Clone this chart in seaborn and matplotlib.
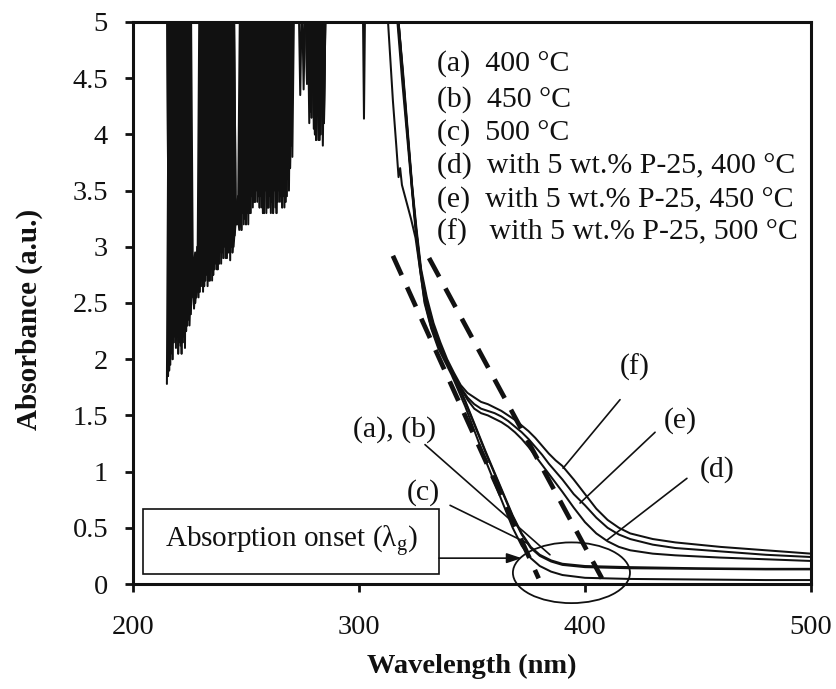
import numpy as np
import pandas as pd
import matplotlib
matplotlib.use("Agg")
import matplotlib.pyplot as plt
import seaborn as sns
from matplotlib.patches import Ellipse, Rectangle

# ---------------- data ----------------
# noisy (saturated) region, four traces; 5.6 = above the 5.0 limit
noise1_wl = np.arange(215.0, 286.0, 1.0)
noise1_abs = [
    1.78, 5.6, 2.05, 5.6, 2.10, 5.6, 2.12, 5.6, 2.10, 5.6,
    2.30, 3.0, 2.45, 2.9, 2.55, 5.6, 2.60, 5.6, 2.65, 5.6,
    2.70, 5.6, 2.80, 5.6, 2.85, 5.6, 2.90, 5.6, 2.88, 5.6,
    3.10, 3.4, 3.15, 5.6, 3.20, 5.6, 3.20, 5.6, 3.35, 5.6,
    3.40, 5.6, 3.35, 5.6, 3.30, 5.6, 3.30, 5.6, 3.35, 5.6,
    3.40, 5.6, 3.35, 5.6, 3.50, 5.6, 5.6, 5.6, 5.6, 4.35,
    5.6, 5.6, 5.6, 4.10, 5.6, 4.05, 5.6, 3.95, 5.6, 3.90,
    5.6,
]
noise2_wl = np.arange(215.5, 286.5, 1.0)
noise2_abs = [
    5.6, 1.95, 5.6, 2.20, 5.6, 2.15, 5.6, 2.20, 5.6, 2.35,
    5.6, 2.70, 2.95, 2.60, 5.6, 2.70, 5.6, 2.75, 5.6, 2.80,
    5.6, 2.85, 5.6, 2.95, 5.6, 3.00, 5.6, 2.95, 5.6, 3.00,
    3.30, 3.30, 5.6, 3.30, 5.6, 3.30, 5.6, 3.45, 5.6, 3.50,
    5.6, 3.45, 5.6, 3.50, 5.6, 3.45, 5.6, 3.50, 5.6, 3.50,
    5.6, 3.45, 5.6, 3.60, 5.6, 3.80, 5.6, 5.6, 5.6, 5.6,
    4.40, 5.6, 5.6, 4.20, 5.6, 4.10, 5.6, 4.00, 5.6, 4.20,
    5.6,
]
noise3_wl = np.arange(215.5, 286.5, 1.0)
noise3_abs = [
    1.85, 5.6, 2.00, 5.6, 2.20, 5.6, 2.05, 5.6, 2.25, 5.6,
    2.40, 2.85, 2.50, 3.0, 2.60, 5.6, 2.65, 5.6, 2.70, 5.6,
    2.75, 5.6, 2.80, 5.6, 2.95, 5.6, 2.90, 5.6, 3.00, 5.6,
    3.20, 3.45, 3.20, 5.6, 3.25, 5.6, 3.30, 5.6, 3.40, 5.6,
    3.45, 5.6, 3.30, 5.6, 3.35, 5.6, 3.40, 5.6, 3.30, 5.6,
    3.45, 5.6, 3.40, 5.6, 3.70, 5.6, 5.6, 5.6, 5.6, 5.6,
    5.6, 5.6, 5.6, 4.30, 5.6, 4.00, 5.6, 3.95, 5.6, 4.10,
    5.6,
]
noise4_wl = np.arange(215.0, 286.0, 1.0)
noise4_abs = [
    5.6, 1.90, 5.6, 2.15, 5.6, 2.05, 5.6, 2.15, 5.6, 2.30,
    5.6, 2.55, 2.90, 2.55, 2.95, 2.65, 5.6, 2.70, 5.6, 2.70,
    5.6, 2.80, 5.6, 2.85, 5.6, 2.90, 5.6, 2.95, 5.6, 2.95,
    3.35, 3.20, 3.40, 3.15, 5.6, 3.20, 5.6, 3.30, 5.6, 3.40,
    5.6, 3.35, 5.6, 3.30, 5.6, 3.35, 5.6, 3.30, 5.6, 3.40,
    5.6, 3.35, 5.6, 3.45, 5.6, 3.90, 5.6, 5.6, 5.6, 5.6,
    5.6, 5.6, 4.45, 5.6, 4.15, 5.6, 3.95, 5.6, 4.00, 5.6,
    5.6,
]
spike_wl = [301.5, 302.2, 302.9]
spike_abs = [5.6, 4.14, 5.6]

# absorption edge, samples without P-25
ab_wl = [314, 317, 319, 321, 323, 325, 327, 329, 332, 335, 338, 341, 344, 347,
         350, 353, 356, 360, 364, 368, 372, 376, 380, 385, 390, 400, 420, 450, 480, 500]
a_abs = [5.6, 5.0, 4.5, 4.05, 3.6, 3.15, 2.8, 2.52, 2.28, 2.12, 2.0, 1.88, 1.75, 1.62,
         1.47, 1.32, 1.17, 0.98, 0.79, 0.6, 0.44, 0.32, 0.25, 0.2, 0.17, 0.15, 0.14, 0.135, 0.13, 0.13]
b_abs = [5.6, 5.05, 4.6, 4.1, 3.65, 3.2, 2.85, 2.55, 2.3, 2.14, 2.02, 1.9, 1.77, 1.63,
         1.48, 1.33, 1.18, 0.99, 0.8, 0.61, 0.45, 0.33, 0.26, 0.21, 0.18, 0.16, 0.15, 0.14, 0.135, 0.135]
c_wl = [311, 313, 315, 316.5, 317.5, 318.2, 319, 321, 323, 325, 327, 329, 332, 335, 338,
        341, 344, 347, 350, 353, 356, 360, 364, 368, 372, 376, 380, 385, 390, 400, 420, 450, 480, 500]
c_abs = [5.6, 4.95, 4.3, 3.9, 3.62, 3.7, 3.55, 3.4, 3.25, 3.08, 2.8, 2.5, 2.27, 2.1, 1.98,
         1.86, 1.72, 1.58, 1.42, 1.26, 1.1, 0.9, 0.7, 0.5, 0.34, 0.23, 0.16, 0.11, 0.08, 0.055,
         0.045, 0.04, 0.035, 0.035]

# absorption edge, samples with 5 wt.% P-25
def_wl = [314, 317.5, 319.5, 321.5, 323.5, 325.5, 327.5, 330, 333, 336, 339, 342, 345, 348,
          351, 354, 357, 360, 363, 366, 369, 372, 375, 378, 381, 384, 387, 390, 395, 400,
          405, 410, 415, 420, 430, 440, 460, 480, 500]
d_abs = [5.6, 5.0, 4.5, 4.0, 3.5, 3.1, 2.75, 2.5, 2.28, 2.1, 1.97, 1.85, 1.74, 1.64,
         1.56, 1.52, 1.5, 1.47, 1.44, 1.4, 1.35, 1.29, 1.22, 1.14, 1.06, 0.98, 0.9, 0.82, 0.68, 0.55,
         0.45, 0.38, 0.33, 0.3, 0.27, 0.255, 0.235, 0.22, 0.205]
e_abs = [5.6, 5.0, 4.52, 4.02, 3.52, 3.12, 2.77, 2.52, 2.3, 2.12, 1.98, 1.86, 1.75, 1.66,
         1.6, 1.56, 1.54, 1.52, 1.49, 1.45, 1.4, 1.35, 1.29, 1.22, 1.15, 1.07, 1.0, 0.93, 0.8, 0.7,
         0.59, 0.5, 0.44, 0.4, 0.35, 0.32, 0.29, 0.26, 0.24]
f_abs = [5.6, 5.0, 4.55, 4.05, 3.55, 3.15, 2.8, 2.55, 2.32, 2.15, 2.0, 1.88, 1.77, 1.7,
         1.66, 1.62, 1.6, 1.57, 1.54, 1.5, 1.46, 1.41, 1.36, 1.3, 1.23, 1.16, 1.1, 1.05, 0.93, 0.8,
         0.67, 0.57, 0.5, 0.45, 0.4, 0.37, 0.33, 0.3, 0.27]

# tangent lines used to read the absorption onset
tangent1_wl = [315, 379.5]
tangent1_abs = [2.92, 0.05]
tangent2_wl = [331, 407.5]
tangent2_abs = [2.90, 0.05]

series_labels = ["(a)  400 °C", "(b)  450 °C", "(c)  500 °C",
                 "(d)  with 5 wt.% P-25, 400 °C",
                 "(e)  with 5 wt.% P-25, 450 °C",
                 "(f)   with 5 wt.% P-25, 500 °C"]

x_ticks = [200, 300, 400, 500]
y_ticks = [0, 0.5, 1, 1.5, 2, 2.5, 3, 3.5, 4, 4.5, 5]
y_ticklabels = ["0", "0.5", "1", "1.5", "2", "2.5", "3", "3.5", "4", "4.5", "5"]

# ---------------- build long table ----------------
parts = {
    "a": (list(noise1_wl) + ab_wl, noise1_abs + a_abs),
    "b": (list(noise2_wl) + ab_wl, noise2_abs + b_abs),
    "c": (list(noise3_wl) + c_wl, noise3_abs + c_abs),
    "d": (list(noise4_wl) + spike_wl + def_wl, noise4_abs + spike_abs + d_abs),
    "e": (list(noise3_wl) + def_wl, noise3_abs + e_abs),
    "f": (list(noise4_wl) + def_wl, noise4_abs + f_abs),
}
frames = []
for k, (w, v) in parts.items():
    frames.append(pd.DataFrame({"wl": w, "abs": v, "series": k}))
df = pd.concat(frames, ignore_index=True)

# ---------------- style ----------------
sns.set_style("ticks")
plt.rcParams["font.family"] = ["Liberation Serif", "DejaVu Serif"]
plt.rcParams["mathtext.fontset"] = "custom"
plt.rcParams["mathtext.rm"] = "Liberation Serif"
plt.rcParams["mathtext.it"] = "Liberation Serif:italic"
plt.rcParams["mathtext.bf"] = "Liberation Serif:bold"

INK = "#111111"
fig = plt.figure(figsize=(8.36, 6.89), dpi=100)
ax = fig.add_axes([133 / 836, 1 - 584 / 689, (811 - 133) / 836, (584 - 22) / 689])

sns.lineplot(data=df, x="wl", y="abs", units="series", estimator=None, sort=False,
             color=INK, lw=1.45, ax=ax, legend=False)

ax.plot(tangent1_wl, tangent1_abs, color=INK, lw=3.4, ls=(0, (4.5, 2.8)), dash_capstyle="butt")
ax.plot(tangent2_wl, tangent2_abs, color=INK, lw=3.4, ls=(0, (4.5, 2.8)), dash_capstyle="butt")

ax.set_xlim(200, 500)
ax.set_ylim(0, 5)
ax.set_xticks(x_ticks)
ax.set_yticks(y_ticks)
ax.set_yticklabels(y_ticklabels)
for s in ax.spines.values():
    s.set_linewidth(2.2)
    s.set_color(INK)
ax.tick_params(axis="both", direction="out", length=6, width=2, color=INK,
               labelsize=20.5, labelcolor=INK)
ax.tick_params(axis="y", pad=12)
ax.tick_params(axis="x", pad=16)
ax.set_xlabel("Wavelength (nm)", fontsize=20.5, fontweight="bold", color=INK, labelpad=10)
ax.set_ylabel("Absorbance (a.u.)", fontsize=21, fontweight="bold", color=INK)
ax.yaxis.set_label_coords(-0.133, 0.47)

# legend as stacked text
legend_y = [4.63, 4.31, 4.02, 3.72, 3.42, 3.13]
for lab, yy in zip(series_labels, legend_y):
    ax.text(334.5, yy, lab, fontsize=21.5, ha="left", va="center", color=INK)

# leader lines and labels
lkw = dict(arrowprops=dict(arrowstyle="-", color=INK, lw=1.2, shrinkA=0, shrinkB=0))
tfs = 21.5
ax.text(315.9, 1.37, "(a), (b)", fontsize=tfs, ha="center", va="center", color=INK)
ax.annotate("", xy=(384.5, 0.26), xytext=(329.2, 1.24), **lkw)
ax.text(328.3, 0.81, "(c)", fontsize=tfs, ha="center", va="center", color=INK)
ax.annotate("", xy=(374.8, 0.36), xytext=(340.3, 0.70), **lkw)
ax.text(422.1, 1.93, "(f)", fontsize=tfs, ha="center", va="center", color=INK)
ax.annotate("", xy=(390.3, 1.03), xytext=(415.5, 1.64), **lkw)
ax.text(442.0, 1.45, "(e)", fontsize=tfs, ha="center", va="center", color=INK)
ax.annotate("", xy=(397.8, 0.72), xytext=(431.0, 1.35), **lkw)
ax.text(458.4, 1.02, "(d)", fontsize=tfs, ha="center", va="center", color=INK)
ax.annotate("", xy=(409.7, 0.39), xytext=(445.1, 0.94), **lkw)

# absorption onset box + arrow
ax.add_patch(Rectangle((204.4, 0.09), 131.0, 0.58, fill=False, ec=INK, lw=1.2))
ax.text(269.9, 0.38, "Absorption onset (λ$_{\\rm g}$)", fontsize=21, ha="center",
        va="center", color=INK)
ax.annotate("", xy=(372.0, 0.23), xytext=(335.4, 0.23),
            arrowprops=dict(arrowstyle="-|>,head_length=0.9,head_width=0.3", color=INK,
                            lw=1.2, shrinkA=0, shrinkB=0))
ax.add_patch(Ellipse((394.0, 0.10), 51.8, 0.54, fill=False, ec=INK, lw=1.3, clip_on=False))

fig.savefig("out.png", dpi=100, facecolor="white")
